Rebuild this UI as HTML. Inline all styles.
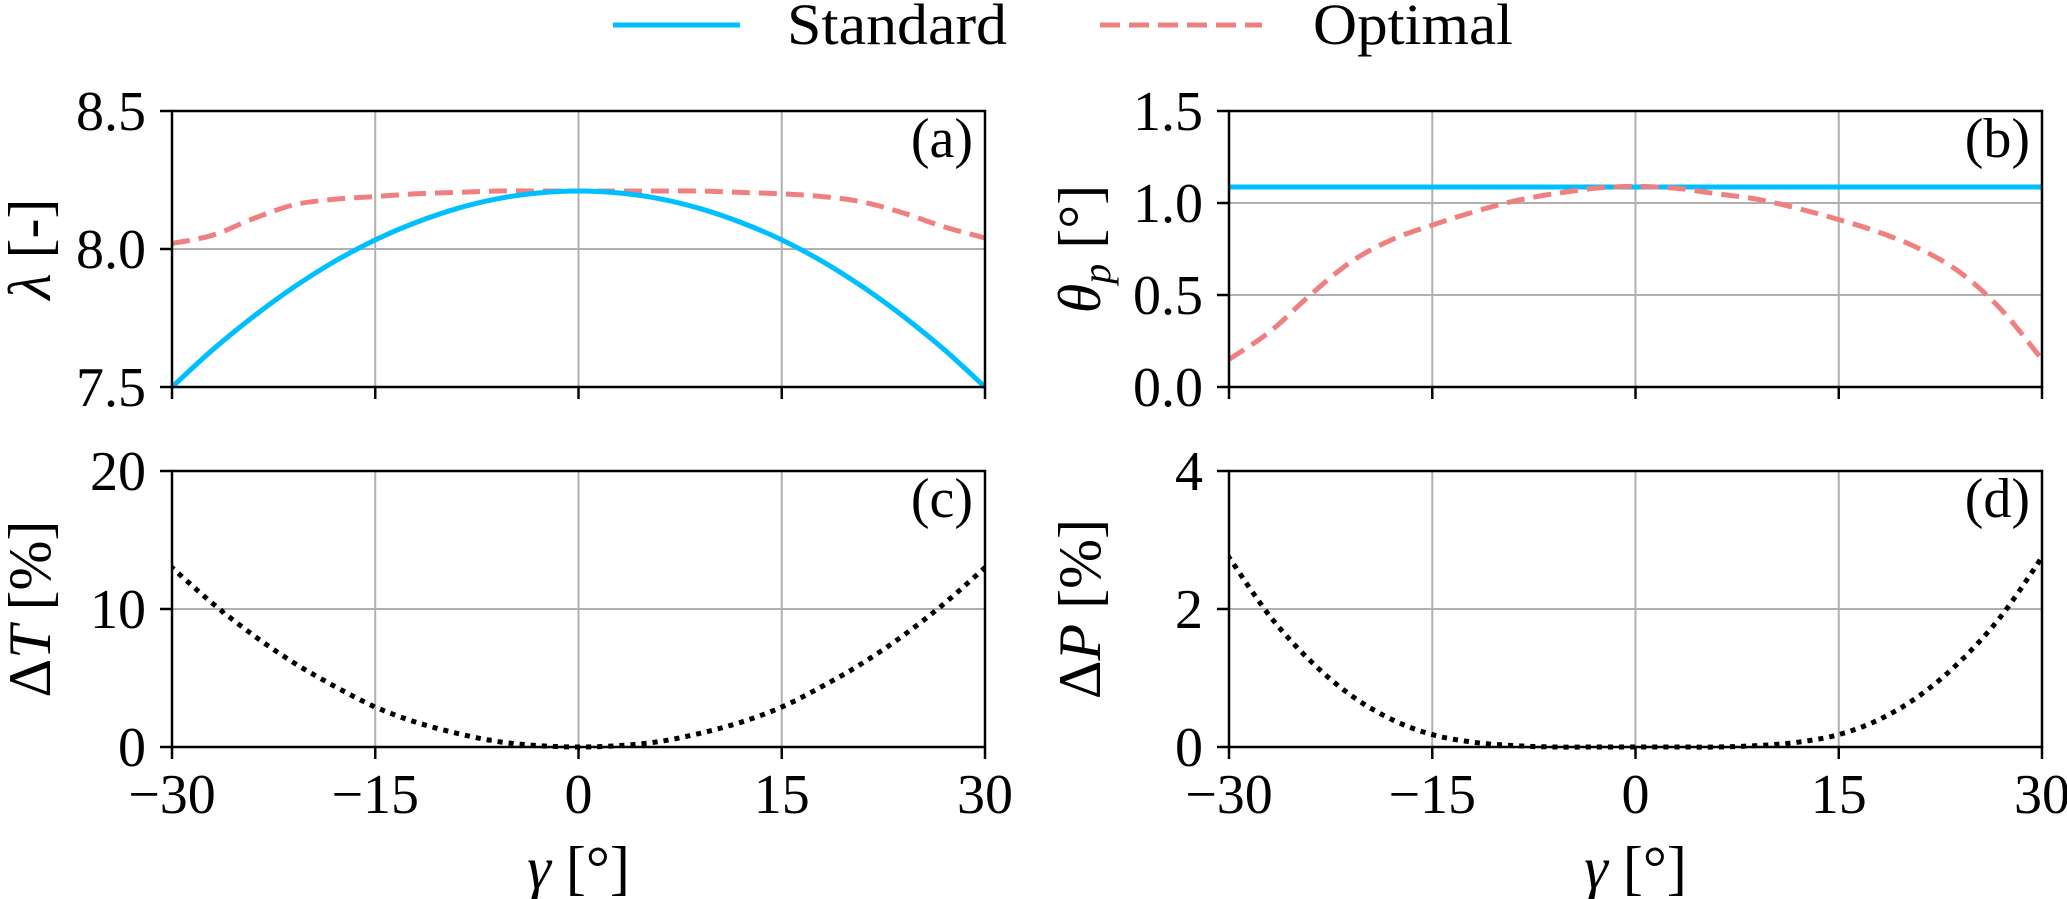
<!DOCTYPE html>
<html><head><meta charset="utf-8"><style>
html,body{margin:0;padding:0;background:#fff;}
svg{display:block;font-family:"Liberation Serif","DejaVu Serif",serif;}
</style></head><body>
<svg id="fig" width="2067" height="899" viewBox="0 0 2067 899" xmlns="http://www.w3.org/2000/svg">
<g>
  <line x1="613" y1="25" x2="740" y2="25" stroke="#00bfff" stroke-width="5"/>
  <text x="787" y="44" font-size="58" textLength="220" lengthAdjust="spacingAndGlyphs">Standard</text>
  <line x1="1100" y1="25" x2="1262" y2="25" stroke="#f08080" stroke-width="5" stroke-dasharray="20,9"/>
  <text x="1313" y="44" font-size="58" textLength="200" lengthAdjust="spacingAndGlyphs">Optimal</text>
</g>
</svg>
<script>
const gamma = [-30,-27,-24,-21,-18,-15,-12,-9,-6,-3,0,3,6,9,12,15,18,21,24,27,30];
const lambdaStandard = [7.50,7.635,7.755,7.862,7.955,8.033,8.096,8.146,8.182,8.203,8.21,8.203,8.182,8.146,8.096,8.033,7.955,7.862,7.755,7.635,7.50];
const lambdaOptimal = [8.02,8.05,8.11,8.16,8.18,8.19,8.20,8.205,8.21,8.21,8.21,8.21,8.21,8.21,8.205,8.20,8.19,8.17,8.13,8.08,8.04];
const thetaStandard = [1.087,1.087,1.087,1.087,1.087,1.087,1.087,1.087,1.087,1.087,1.087,1.087,1.087,1.087,1.087,1.087,1.087,1.087,1.087,1.087,1.087];
const thetaOptimal = [0.15,0.30,0.50,0.68,0.80,0.88,0.95,1.01,1.05,1.08,1.09,1.08,1.05,1.02,0.97,0.91,0.84,0.75,0.62,0.42,0.15];
const deltaT = [13.0,10.4,8.1,6.1,4.4,2.9,1.8,1.0,0.4,0.1,0.0,0.1,0.4,1.0,1.8,2.9,4.4,6.1,8.1,10.4,13.0];
const deltaP = [2.75,1.9,1.25,0.75,0.4,0.18,0.07,0.02,0.0,0.0,0.0,0.0,0.0,0.02,0.07,0.18,0.4,0.75,1.25,1.9,2.75];
const xTicks = [-30,-15,0,15,30];
const xTickLabels = ["\u221230","\u221215","0","15","30"];
const yTicksA = [7.5,8.0,8.5], yLabelsA = ["7.5","8.0","8.5"];
const yTicksB = [0,0.5,1.0,1.5], yLabelsB = ["0.0","0.5","1.0","1.5"];
const yTicksC = [0,10,20], yLabelsC = ["0","10","20"];
const yTicksD = [0,2,4], yLabelsD = ["0","2","4"];

const NS="http://www.w3.org/2000/svg";
const svg=document.getElementById('fig');
function mk(tag,attrs,parent){const e=document.createElementNS(NS,tag);for(const k in attrs)e.setAttribute(k,attrs[k]);(parent||svg).appendChild(e);return e;}
function smoothPath(pts){
  let d='M'+pts[0][0].toFixed(1)+','+pts[0][1].toFixed(1);
  for(let i=0;i<pts.length-1;i++){
    const p0=pts[Math.max(0,i-1)],p1=pts[i],p2=pts[i+1],p3=pts[Math.min(pts.length-1,i+2)];
    const c1=[p1[0]+(p2[0]-p0[0])/6,p1[1]+(p2[1]-p0[1])/6];
    const c2=[p2[0]-(p3[0]-p1[0])/6,p2[1]-(p3[1]-p1[1])/6];
    d+='C'+c1[0].toFixed(1)+','+c1[1].toFixed(1)+' '+c2[0].toFixed(1)+','+c2[1].toFixed(1)+' '+p2[0].toFixed(1)+','+p2[1].toFixed(1);
  }
  return d;
}
function panel(p){
  const g=mk('g',{});
  
  
  const xs=v=>p.x0+(v-(-30))/60*(p.x1-p.x0);
  const ys=v=>p.y1-(v-p.ymin)/(p.ymax-p.ymin)*(p.y1-p.y0);
  xTicks.forEach(t=>{const l=mk('line',{x1:xs(t),x2:xs(t),y1:p.y0,y2:p.y1,stroke:'#b0b0b0','stroke-width':2},g);
    
    });
  p.yt.forEach(t=>{const l=mk('line',{x1:p.x0,x2:p.x1,y1:ys(t),y2:ys(t),stroke:'#b0b0b0','stroke-width':2},g);
    
    });
  const clip=mk('clipPath',{id:'clip'+p.id},g);
  mk('rect',{x:p.x0,y:p.y0-3,width:p.x1-p.x0,height:p.y1-p.y0+6},clip);
  p.series.forEach(s=>{
    const d=smoothPath(gamma.map((x,i)=>[xs(x),ys(s.vals[i])]));
    const a={d:d,fill:'none',stroke:s.color,'stroke-width':s.w||5,'stroke-linejoin':'round','clip-path':'url(#clip'+p.id+')'};
    if(s.dash)a['stroke-dasharray']=s.dash;
    if(s.cap)a['stroke-linecap']=s.cap;
    const path=mk('path',a,g);
    
    
  });
  const f=mk('rect',{x:p.x0,y:p.y0,width:p.x1-p.x0,height:p.y1-p.y0,fill:'none',stroke:'#000','stroke-width':2.5},g);
  
  
  xTicks.forEach((t,i)=>{const l=mk('line',{x1:xs(t),x2:xs(t),y1:p.y1,y2:p.y1+12,stroke:'#000','stroke-width':2.5},g);
    
    
    if(p.xlab){const tx=mk('text',{x:xs(t),y:p.y1+66,'font-size':56,'text-anchor':'middle'},g);tx.textContent=xTickLabels[i];
      
      }});
  p.yt.forEach((t,i)=>{const l=mk('line',{x1:p.x0-12,x2:p.x0,y1:ys(t),y2:ys(t),stroke:'#000','stroke-width':2.5},g);
    
    
    const tx=mk('text',{x:p.x0-26,y:ys(t)+19,'font-size':56,'text-anchor':'end'},g);tx.textContent=p.yl[i];
    
    });
  const pl=mk('text',{x:p.x1-12,y:p.y0+46,'font-size':56,'text-anchor':'end'},g);pl.textContent='('+p.id+')';
  
  
  const yl=mk('text',{x:0,y:0,'font-size':60,'text-anchor':'middle',transform:'translate('+p.ylx+','+((p.y0+p.y1)/2)+') rotate(-90)'},g);
  yl.innerHTML=p.ytitle;
  
  
  if(p.xlab){const xl=mk('text',{x:(p.x0+p.x1)/2,y:888,'font-size':60,'text-anchor':'middle'},g);
    xl.innerHTML='<tspan font-style="italic">γ</tspan> [°]';
    
    }
}
const L=[172,985],R=[1229,2042],T=[111,387],B=[471,747];
panel({id:'a',x0:L[0],x1:L[1],y0:T[0],y1:T[1],ymin:7.5,ymax:8.5,yt:yTicksA,yl:yLabelsA,ylx:50,ytitle:'<tspan font-style="italic">λ</tspan> [-]',
  series:[{vals:lambdaOptimal,color:'#f08080',dash:'18,9',name:'optimal-lambda-line'},{vals:lambdaStandard,color:'#00bfff',name:'standard-lambda-line'}]});
panel({id:'b',x0:R[0],x1:R[1],y0:T[0],y1:T[1],ymin:0,ymax:1.5,yt:yTicksB,yl:yLabelsB,ylx:1100,ytitle:'<tspan font-style="italic">θ</tspan><tspan font-style="italic" font-size="40" dy="10">p</tspan><tspan dy="-10"> [°]</tspan>',
  series:[{vals:thetaStandard,color:'#00bfff',name:'standard-theta-line'},{vals:thetaOptimal,color:'#f08080',dash:'18,9',name:'optimal-theta-line'}]});
panel({id:'c',x0:L[0],x1:L[1],y0:B[0],y1:B[1],ymin:0,ymax:20,yt:yTicksC,yl:yLabelsC,ylx:50,xlab:true,ytitle:'Δ<tspan font-style="italic">T</tspan> [%]',
  series:[{vals:deltaT,color:'#000',dash:'0.1,11',cap:'square',w:5,name:'delta-thrust-line'}]});
panel({id:'d',x0:R[0],x1:R[1],y0:B[0],y1:B[1],ymin:0,ymax:4,yt:yTicksD,yl:yLabelsD,ylx:1100,xlab:true,ytitle:'Δ<tspan font-style="italic">P</tspan> [%]',
  series:[{vals:deltaP,color:'#000',dash:'0.1,11',cap:'square',w:5,name:'delta-power-line'}]});
</script>
</body></html>
